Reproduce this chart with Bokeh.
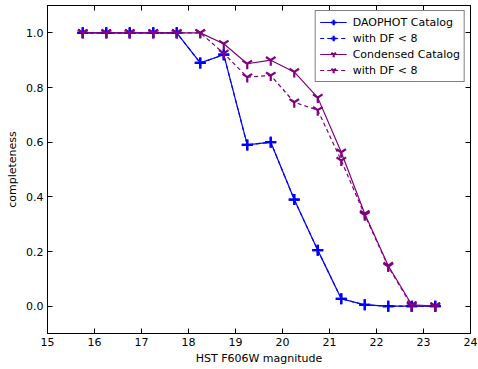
from bokeh.plotting import figure
from bokeh.models import (LinearAxis, Range1d, FixedTicker, Legend, LegendItem,
                          CustomJSTickFormatter)
from bokeh.embed import file_html
from bokeh.resources import INLINE

mag = [15.75, 16.25, 16.75, 17.25, 17.75, 18.25, 18.75, 19.25, 19.75,
       20.25, 20.75, 21.25, 21.75, 22.25, 22.75, 23.25]
daophot = [1.0, 1.0, 1.0, 1.0, 1.0, 0.89, 0.92, 0.59, 0.60,
           0.39, 0.205, 0.027, 0.005, 0.0, 0.0, 0.0]
daophot_df = [1.0, 1.0, 1.0, 1.0, 1.0, 0.89, 0.92, 0.59, 0.60,
              0.39, 0.205, 0.027, 0.005, 0.0, 0.0, 0.0]
condensed = [1.0, 1.0, 1.0, 1.0, 1.0, 1.0, 0.96, 0.887, 0.90,
             0.857, 0.763, 0.563, 0.338, 0.148, 0.005, 0.0]
condensed_df = [1.0, 1.0, 1.0, 1.0, 1.0, 1.0, 0.925, 0.838, 0.844,
                0.746, 0.717, 0.533, 0.333, 0.145, 0.0, 0.0]
x_ticks = [15, 16, 17, 18, 19, 20, 21, 22, 23, 24]
y_ticks = [0.0, 0.2, 0.4, 0.6, 0.8, 1.0]

FONT = "DejaVu Sans"
BLUE = "#0000ff"
PURPLE = "#800080"

p = figure(frame_width=423, frame_height=328, output_backend="svg",
           toolbar_location=None, x_range=Range1d(15, 24), y_range=Range1d(-0.1, 1.1),
           min_border_left=47, min_border_right=8, min_border_top=5, min_border_bottom=36,
           x_axis_label="HST F606W magnitude", y_axis_label="completeness")
p.grid.visible = False
p.outline_line_color = "black"
p.outline_line_width = 1
p.background_fill_color = "white"
p.border_fill_color = "white"

for ax in p.xaxis + p.yaxis:
    ax.major_tick_in = 5
    ax.major_tick_out = 0
    ax.minor_tick_in = 0
    ax.minor_tick_out = 0
    ax.axis_line_color = "black"
    ax.major_label_text_font = FONT
    ax.major_label_text_font_size = "11px"
    ax.major_label_text_color = "black"
    ax.axis_label_text_font = FONT
    ax.axis_label_text_font_size = "11px"
    ax.axis_label_text_font_style = "normal"
    ax.axis_label_text_color = "black"
    ax.major_label_standoff = 4
    ax.axis_label_standoff = 4
p.xaxis.ticker = FixedTicker(ticks=x_ticks)
p.yaxis.ticker = FixedTicker(ticks=y_ticks)
p.yaxis.formatter = CustomJSTickFormatter(code="return tick.toFixed(1);")
p.xaxis.axis_label_standoff = 3

blank = CustomJSTickFormatter(code="return '';")
top = LinearAxis(ticker=FixedTicker(ticks=x_ticks), major_tick_in=5, major_tick_out=0,
                 minor_tick_in=0, minor_tick_out=0, formatter=blank,
                 major_label_standoff=0)
right = LinearAxis(ticker=FixedTicker(ticks=y_ticks), major_tick_in=5, major_tick_out=0,
                   minor_tick_in=0, minor_tick_out=0,
                   formatter=CustomJSTickFormatter(code="return '';"),
                   major_label_standoff=0)
p.add_layout(top, "above")
p.add_layout(right, "right")

l1 = p.line(mag, daophot, line_color=BLUE, line_width=1.2)
m1 = p.scatter(mag, daophot, marker="cross", size=11, line_color=BLUE, line_width=2.2)
l2 = p.line(mag, daophot_df, line_color=BLUE, line_width=1.2, line_dash="4 3")
m2 = p.scatter(mag, daophot_df, marker="cross", size=11, line_color=BLUE, line_width=2.2)
l3 = p.line(mag, condensed, line_color=PURPLE, line_width=1.2)
m3 = p.scatter(mag, condensed, marker="y", size=11, line_color=PURPLE, line_width=2.2)
l4 = p.line(mag, condensed_df, line_color=PURPLE, line_width=1.2, line_dash="4 3")
m4 = p.scatter(mag, condensed_df, marker="y", size=11, line_color=PURPLE, line_width=2.2)

legend = Legend(items=[
    LegendItem(label="DAOPHOT Catalog", renderers=[l1, m1]),
    LegendItem(label="with DF < 8", renderers=[l2, m2]),
    LegendItem(label="Condensed Catalog", renderers=[l3, m3]),
    LegendItem(label="with DF < 8", renderers=[l4, m4]),
], location="top_right")
legend.label_text_font = FONT
legend.label_text_font_size = "11px"
legend.label_text_color = "black"
legend.border_line_color = "black"
legend.border_line_width = 1
legend.margin = 5
legend.padding = 4
legend.spacing = 2
legend.label_height = 14
legend.glyph_height = 14
legend.glyph_width = 27
legend.label_standoff = 6
legend.background_fill_alpha = 1
p.add_layout(legend, "center")

open("out.html", "w").write(file_html(p, INLINE))
